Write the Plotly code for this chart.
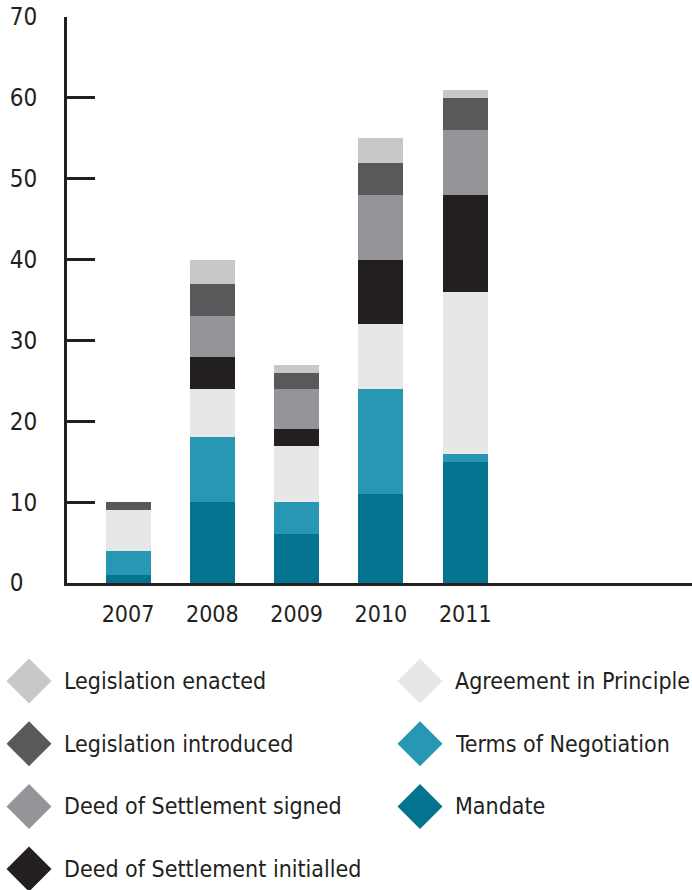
import plotly.graph_objects as go

# Data
years = ['2007', '2008', '2009', '2010', '2011']
mandate = [1, 10, 6, 11, 15]
terms = [3, 8, 4, 13, 1]
agreement = [5, 6, 7, 8, 20]
initialled = [0, 4, 2, 8, 12]
signed = [0, 5, 5, 8, 8]
introduced = [1, 4, 2, 4, 4]
enacted = [0, 3, 1, 3, 1]

y_ticks = [0, 10, 20, 30, 40, 50, 60, 70]
# labels are left-aligned in the original, so pad the single digit with a figure space
y_ticktext = ['0\u2007', '10', '20', '30', '40', '50', '60', '70']

series = [
    ('Mandate', mandate, '#037390'),
    ('Terms of Negotiation', terms, '#2897b3'),
    ('Agreement in Principle', agreement, '#e6e7e8'),
    ('Deed of Settlement initialled', initialled, '#231f20'),
    ('Deed of Settlement signed', signed, '#939598'),
    ('Legislation introduced', introduced, '#58595b'),
    ('Legislation enacted', enacted, '#c7c8ca'),
]

# legend layout: (name, column, row)
legend_pos = [
    ('Legislation enacted', 0, 0), ('Legislation introduced', 0, 1),
    ('Deed of Settlement signed', 0, 2), ('Deed of Settlement initialled', 0, 3),
    ('Agreement in Principle', 1, 0), ('Terms of Negotiation', 1, 1),
    ('Mandate', 1, 2),
]

FONT = "DejaVu Sans Condensed, Liberation Sans Narrow, sans-serif"
W, H = 692, 890
ML, MT, MB = 67, 17, 307
PH = H - MT - MB
PW = W - ML


def px_x(x):
    return (x - ML) / PW


def px_y(y):
    return (H - MB - y) / PH


fig = go.Figure()
for name, vals, col in series:
    fig.add_trace(go.Bar(x=years, y=vals, name=name, marker_color=col,
                         marker_line_width=0, width=0.534, showlegend=False))

colors = {n: c for n, _, c in series}
shapes = []
annotations = []
for name, c, r in legend_pos:
    cx = 29 if c == 0 else 420
    cy = 681 + r * 62.7
    x0, x1 = px_x(cx - 22.5), px_x(cx + 22.5)
    xm = px_x(cx)
    yt, yb, ym = px_y(cy - 22.5), px_y(cy + 22.5), px_y(cy)
    shapes.append(dict(type='path', xref='paper', yref='paper',
                       path=f'M {x0} {ym} L {xm} {yt} L {x1} {ym} L {xm} {yb} Z',
                       fillcolor=colors[name], line_width=0))
    annotations.append(dict(text=name, xref='paper', yref='paper',
                            x=px_x(cx + 33), y=ym, xanchor='left', yanchor='middle',
                            showarrow=False, font=dict(size=23, color='#231f20', family=FONT)))

fig.update_layout(
    barmode='stack',
    width=W, height=H,
    margin=dict(l=ML, r=0, t=MT, b=MB),
    plot_bgcolor='white', paper_bgcolor='white',
    font=dict(family=FONT, size=23, color='#231f20'),
    shapes=shapes, annotations=annotations,
    xaxis=dict(range=[-0.724, 6.69], showline=True, linecolor='#231f20', linewidth=3,
               ticks='', showgrid=False, zeroline=False, ticklabelstandoff=8),
    yaxis=dict(range=[0, 70], showline=True, linecolor='#231f20', linewidth=3,
               tickvals=y_ticks, ticktext=y_ticktext, ticks='', showgrid=False,
               zeroline=False, ticklabelstandoff=22, tickfont=dict(size=24),
               minor=dict(tickvals=y_ticks[1:-1], ticks='inside',
                          ticklen=28, tickwidth=3, tickcolor='#231f20', showgrid=False)),
)

fig.write_html("out.html", config={'displayModeBar': False},
               post_script="document.body.style.margin='0';")
